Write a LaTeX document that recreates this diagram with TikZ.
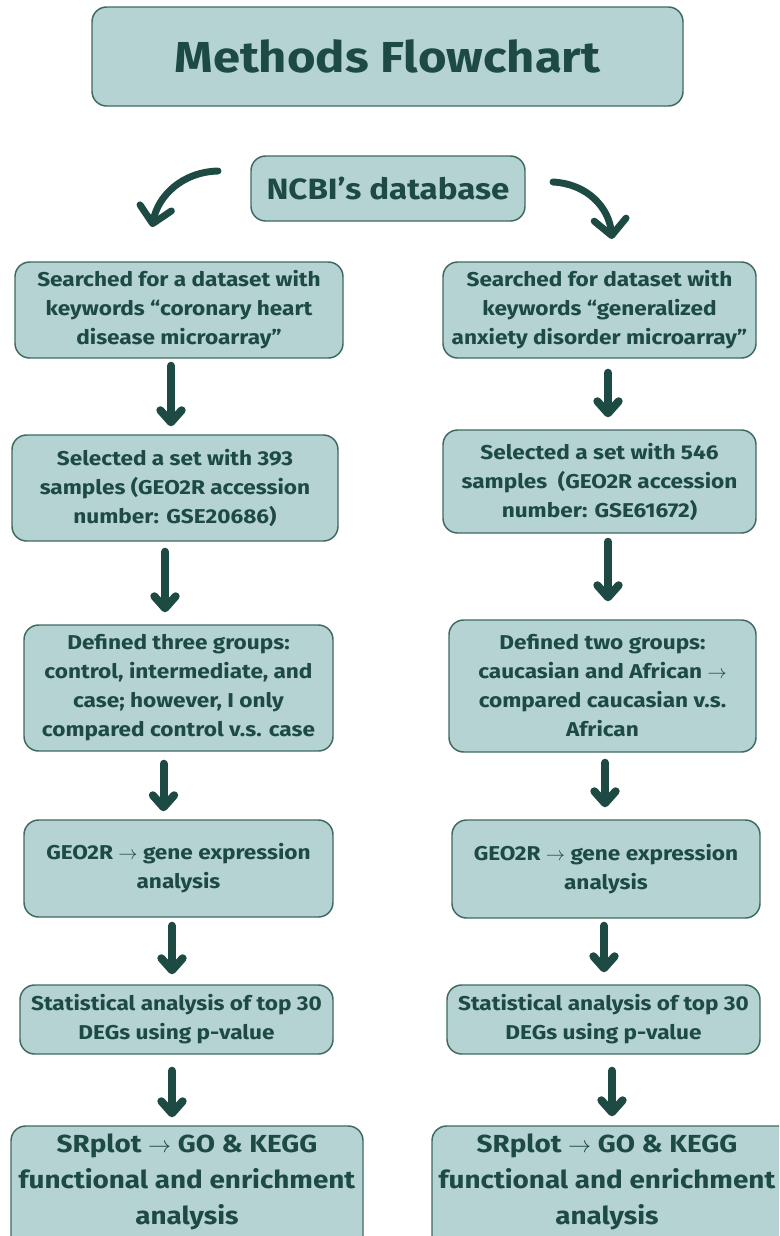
\documentclass[tikz,border=0pt]{standalone}
\usepackage{fontspec}
\setmainfont{Fira Sans}[FakeStretch=1.13]
\usetikzlibrary{arrows.meta,calc}
\definecolor{boxfill}{HTML}{B4D3D2}
\definecolor{boxline}{HTML}{3F6A61}
\definecolor{ink}{HTML}{1D4A42}
\newcommand\vconn[5]{\draw[arr] ($(#1.south)+(#3,#4)$) -- ($(#1.south |- #2.north)+(#3,-#5)$);}
\begin{document}
\begin{tikzpicture}[x=0.75pt,y=-0.75pt,
 box/.style={draw=boxline, line width=1.1pt, fill=boxfill, rounded corners=11pt, text=ink, align=center, inner sep=0pt},
 body/.style={font=\bfseries\fontsize{15}{21.75}\selectfont},
 big/.style={text=ink, align=center, font=\bfseries\fontsize{18.5}{27}\selectfont},
 arr/.style={draw=ink, line width=6pt, line cap=round, -{Straight Barb[length=9pt,width=16pt,line cap=round,line join=round]}},
 curv/.style={draw=ink, line width=5.2pt, line cap=round, -{Straight Barb[length=12pt,width=24pt,line cap=round,line join=round]}}
]
\useasboundingbox (0,0) rectangle (779,1236);
\fill[white] (0,0) rectangle (779,1236);
\clip (0,0) rectangle (779,1236);

% title and source
\node[box, minimum width=443.25pt, minimum height=74.25pt, font=\bfseries\fontsize{32.5}{40}\selectfont] (title) at (387.5,56.5) {Methods Flowchart};
\node[box, minimum width=205.5pt, minimum height=48.75pt, font=\bfseries\fontsize{22}{26}\selectfont] (ncbi) at (388,188.5) {NCBI’s database};

% left column
\node[box, body, minimum width=246pt, minimum height=72pt] (L1) at (179,310) {Searched for a dataset with\\keywords “coronary heart\\disease microarray”};
\node[box, body, minimum width=244.5pt, minimum height=79.5pt] (L2) at (175,488) {Selected a set with 393\\samples (GEO2R accession\\number: GSE20686)};
\node[box, body, minimum width=231.75pt, minimum height=94.5pt] (L3) at (178.5,688) {Defined three groups:\\control, intermediate, and\\case; however, I only\\compared control v.s. case};
\node[box, body, minimum width=231.75pt, minimum height=72.75pt] (L4) at (178.5,868.5) {GEO2R $\rightarrow$ gene expression\\analysis};
\node[box, body, minimum width=234.75pt, minimum height=51.75pt] (L5) at (176.5,1019.5) {Statistical analysis of top 30\\DEGs using p-value};
\node[box, minimum width=264pt, minimum height=97.5pt] (L6) at (187,1191) {};
\node[big] (L6t) at (187,1182) {SRplot $\rightarrow$ GO \& KEGG\\functional and enrichment\\analysis};

% right column
\node[box, body, minimum width=234.75pt, minimum height=72pt] (R1) at (599.5,310) {Searched for dataset with\\keywords “generalized\\anxiety disorder microarray”};
\node[box, body, minimum width=234.75pt, minimum height=77.25pt] (R2) at (599.5,481.5) {Selected a set with 546\\samples~ (GEO2R accession\\number: GSE61672)};
\node[box, body, minimum width=230.25pt, minimum height=99pt] (R3) at (602.5,686) {Defined two groups:\\caucasian and African $\rightarrow$\\compared caucasian v.s.\\African};
\node[box, body, minimum width=231pt, minimum height=73.5pt] (R4) at (606,869) {GEO2R $\rightarrow$ gene expression\\analysis};
\node[box, body, minimum width=234.75pt, minimum height=51.75pt] (R5) at (603.5,1019.5) {Statistical analysis of top 30\\DEGs using p-value};
\node[box, minimum width=276pt, minimum height=97.5pt] (R6) at (616,1191) {};
\node[big] (R6t) at (607,1182) {SRplot $\rightarrow$ GO \& KEGG\\functional and enrichment\\analysis};

% curved arrows from the source
\coordinate (lstart) at (218,171);
\coordinate (lend) at (152,227);
\coordinate (rstart) at (553,182);
\coordinate (rend) at (612,239);
\draw[curv] (lstart) .. controls (182,172) and (158,196) .. (lend);
\draw[curv] (rstart) .. controls (588,184) and (609,208) .. (rend);

% vertical connectors
\vconn{L1}{L2}{-8}{7}{8}
\vconn{L2}{L3}{-10}{10}{12}
\vconn{L3}{L4}{-15}{12}{8}
\vconn{L4}{L5}{-6.5}{8}{10}
\vconn{L5}{L6}{-4.5}{16}{8}
\vconn{R1}{R2}{8.5}{14}{12}
\vconn{R2}{R3}{8.5}{8}{18}
\vconn{R3}{R4}{2.5}{10}{12}
\vconn{R4}{R5}{-2}{7}{12}
\vconn{R5}{R6}{8.5}{16}{9}
\end{tikzpicture}
\end{document}
